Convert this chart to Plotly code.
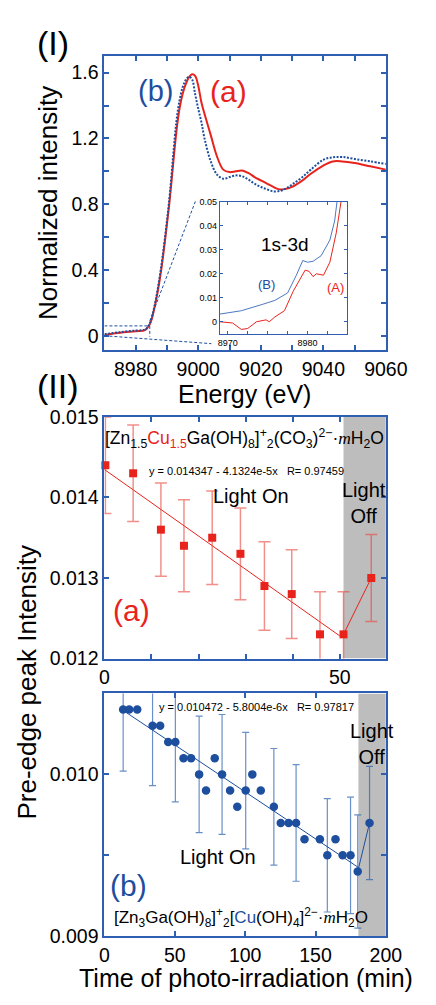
import plotly.graph_objects as go

# ---------------- data ----------------
# Panel (I): XANES spectra
energy = [8970, 8975, 8980, 8983, 8984.5, 8986, 8988, 8990, 8991, 8992, 8993, 8994, 8995,
          8996, 8997, 8998, 8999, 9000, 9001, 9002, 9004, 9006, 9008, 9010, 9012, 9014,
          9016, 9018, 9020, 9022, 9024, 9026, 9028, 9030, 9033, 9036, 9040, 9043, 9046,
          9050, 9055, 9060]
spec_a = [0.005, 0.018, 0.028, 0.035, 0.07, 0.17, 0.38, 0.68, 0.85, 1.05, 1.24, 1.38, 1.47,
          1.53, 1.57, 1.59, 1.58, 1.52, 1.42, 1.35, 1.22, 1.09, 1.01, 0.995, 1.0, 1.005,
          0.99, 0.965, 0.945, 0.925, 0.905, 0.89, 0.893, 0.905, 0.94, 0.985, 1.035, 1.06,
          1.06, 1.05, 1.03, 1.01]
spec_b = [0.01, 0.022, 0.032, 0.038, 0.075, 0.18, 0.40, 0.70, 0.88, 1.10, 1.30, 1.43, 1.51,
          1.555, 1.575, 1.56, 1.47, 1.38, 1.30, 1.20, 1.06, 0.98, 0.955, 0.965, 0.975, 0.97,
          0.95, 0.925, 0.905, 0.89, 0.878, 0.88, 0.895, 0.92, 0.96, 1.01, 1.07, 1.085,
          1.087, 1.075, 1.06, 1.045]

# Inset: pre-edge 1s-3d region
inset_e_B = [8969.0, 8971.7, 8974.4, 8975.9, 8977.5, 8978.6, 8979.4, 8980.0, 8980.7, 8981.7,
             8982.8, 8983.4, 8983.7]
inset_B = [0.0032, 0.0046, 0.0073, 0.0089, 0.0120, 0.0194, 0.0255, 0.0248, 0.0252, 0.0275,
           0.0340, 0.0420, 0.0500]
inset_e_A = [8969.0, 8970.6, 8971.7, 8972.5, 8973.6, 8974.8, 8975.2, 8975.9, 8977.1, 8978.2,
             8979.0, 8979.7, 8980.2, 8980.7, 8981.1, 8982.0, 8982.8, 8983.6, 8984.2]
inset_A = [0.0, -0.0005, -0.0032, -0.0028, 0.0, 0.0008, 0.0, 0.0020, 0.0046, 0.0127,
           0.0174, 0.0215, 0.0210, 0.0188, 0.0200, 0.0194, 0.0248, 0.0370, 0.0500]

# Panel (II)(a)
a_time = [0.2, 6.1, 12.0, 16.9, 22.9, 28.9, 34.0, 39.8, 45.8, 50.8, 56.7]
a_val = [0.01440, 0.01430, 0.01360, 0.01340, 0.01350, 0.01330, 0.01290, 0.01280, 0.01230,
         0.01230, 0.01300]
a_err = [0.00060, 0.00060, 0.00058, 0.00057, 0.00058, 0.00057, 0.00055, 0.00055, 0.00053,
         0.00053, 0.00054]
a_fit_b0, a_fit_b1 = 0.014347, -4.1324e-5
a_fit_t = [0, 50]

# Panel (II)(b)
b_time = [13.3, 17.6, 23.3, 34.2, 39.6, 45.3, 50.4, 56.2, 61.6, 67.3, 72.2, 78.4, 83.6, 89.3,
          94.4, 100.4, 105.1, 111.1, 120.4, 125.3, 130.9, 136.2, 142.2, 153.1, 158.4, 164.2,
          169.3, 174.9, 180.0, 188.4]
b_val = [0.0104, 0.0104, 0.0104, 0.0103, 0.0103, 0.0102, 0.0102, 0.0101, 0.0101, 0.0100,
         0.0099, 0.0101, 0.0100, 0.0099, 0.0098, 0.0099, 0.0100, 0.0099, 0.0098, 0.0097,
         0.0097, 0.0097, 0.0096, 0.0096, 0.0095, 0.0096, 0.0095, 0.0095, 0.0094, 0.0097]
b_err_time = [13.3, 34.2, 50.4, 67.3, 83.6, 100.4, 120.4, 136.2, 158.4, 174.9, 180.0, 188.4]
b_err_val = [0.0104, 0.0103, 0.0102, 0.0100, 0.0100, 0.0099, 0.0098, 0.0097, 0.0095, 0.0095,
             0.0094, 0.0097]
b_err = [0.00038, 0.00037, 0.00037, 0.00036, 0.00037, 0.00036, 0.00036, 0.00036, 0.00035,
         0.00036, 0.00035, 0.00035]
b_fit_b0, b_fit_b1 = 0.010472, -5.8004e-6
b_fit_t = [15, 180]

# ---------------- style ----------------
W, H = 436, 1005
RED = "#e8231c"
BLUE = "#1d4f9e"
FRAME = "#2f5fb3"
FONT = "Liberation Sans"


def px(x):
    return x / W


def py(y):
    return 1 - y / H


fig = go.Figure()

# main spectra
fig.add_trace(go.Scatter(x=energy, y=spec_a, mode="lines", line=dict(color=RED, width=2, shape="spline"),
                         xaxis="x", yaxis="y", showlegend=False))
fig.add_trace(go.Scatter(x=energy, y=spec_b, mode="lines",
                         line=dict(color=BLUE, width=2, dash="2px,1.5px", shape="spline"),
                         xaxis="x", yaxis="y", showlegend=False))
# inset
fig.add_trace(go.Scatter(x=inset_e_B, y=inset_B, mode="lines", line=dict(color="#4a78c0", width=1),
                         xaxis="x2", yaxis="y2", showlegend=False))
fig.add_trace(go.Scatter(x=inset_e_A, y=inset_A, mode="lines", line=dict(color=RED, width=1),
                         xaxis="x2", yaxis="y2", showlegend=False))

# panel a
fig.add_trace(go.Scatter(x=a_fit_t, y=[a_fit_b0 + a_fit_b1 * t for t in a_fit_t], mode="lines",
                         line=dict(color=RED, width=1), xaxis="x3", yaxis="y3", showlegend=False))
fig.add_trace(go.Scatter(x=a_time[-2:], y=a_val[-2:], mode="lines", line=dict(color=RED, width=1),
                         xaxis="x3", yaxis="y3", showlegend=False))
fig.add_trace(go.Scatter(x=a_time, y=a_val, mode="markers",
                         marker=dict(symbol="square", size=8, color=RED),
                         error_y=dict(type="data", array=a_err, color="rgba(232,70,60,0.6)",
                                      thickness=1.5, width=6),
                         cliponaxis=False, xaxis="x3", yaxis="y3", showlegend=False))

# panel b
fig.add_trace(go.Scatter(x=b_err_time, y=b_err_val, mode="markers",
                         marker=dict(size=2, color="rgba(0,0,0,0)"),
                         error_y=dict(type="data", array=b_err, color="rgba(40,95,175,0.7)",
                                      thickness=1.2, width=3.5),
                         cliponaxis=False, xaxis="x4", yaxis="y4", showlegend=False))
fig.add_trace(go.Scatter(x=b_fit_t, y=[b_fit_b0 + b_fit_b1 * t for t in b_fit_t], mode="lines",
                         line=dict(color=BLUE, width=1), xaxis="x4", yaxis="y4", showlegend=False))
fig.add_trace(go.Scatter(x=b_time[-2:], y=b_val[-2:], mode="lines", line=dict(color=BLUE, width=1),
                         xaxis="x4", yaxis="y4", showlegend=False))
fig.add_trace(go.Scatter(x=b_time, y=b_val, mode="markers",
                         marker=dict(symbol="circle", size=8.5, color=BLUE),
                         cliponaxis=False, xaxis="x4", yaxis="y4", showlegend=False))


def axis(domain, rng, tickvals, anchor, minor_dtick=None, minor_tick0=None, size=19.5, lw=2,
         ticklen=5, ticktext=None):
    d = dict(domain=domain, range=rng, tickmode="array", tickvals=tickvals, anchor=anchor,
             ticks="inside", ticklen=ticklen, tickwidth=lw, tickcolor=FRAME,
             showline=True, linecolor=FRAME, linewidth=lw, mirror="ticks",
             showgrid=False, zeroline=False, tickfont=dict(size=size, color="black", family=FONT))
    if ticktext is not None:
        d["ticktext"] = ticktext
    if minor_dtick is not None:
        d["minor"] = dict(dtick=minor_dtick, tick0=minor_tick0 if minor_tick0 is not None else rng[0],
                          ticks="inside", ticklen=ticklen, tickwidth=lw, tickcolor=FRAME, showgrid=False)
    return d


fig.update_layout(
    width=W, height=H, margin=dict(l=0, r=0, t=0, b=0),
    paper_bgcolor="white", plot_bgcolor="white",
    font=dict(family=FONT, color="black"),
    xaxis=axis([px(106), px(406)], [8970, 9060], [8980, 9000, 9020, 9040, 9060], "y",
               minor_dtick=10, minor_tick0=8970),
    yaxis=axis([py(347), py(46)], [-0.089, 1.701], [0, 0.4, 0.8, 1.2, 1.6], "x",
               minor_dtick=0.2, minor_tick0=0, ticktext=["0", "0.4", "0.8", "1.2", "1.6"]),
    xaxis2=axis([px(229), px(365)], [8969, 8985], [8970, 8980], "y2", minor_dtick=2.5,
                minor_tick0=8970, size=9, lw=1, ticklen=3),
    yaxis2=axis([py(330), py(195)], [-0.005, 0.05], [0, 0.01, 0.02, 0.03, 0.04, 0.05], "x2",
                size=9, lw=1, ticklen=3, ticktext=["0", "0.01", "0.02", "0.03", "0.04", "0.05"]),
    xaxis3=axis([px(106), px(406)], [0, 59.8], [0, 50], "y3", minor_dtick=10, minor_tick0=0),
    yaxis3=axis([py(662), py(415)], [0.012, 0.015], [0.012, 0.013, 0.014, 0.015], "x3",
                ticktext=["0.012", "0.013", "0.014", "0.015"]),
    xaxis4=axis([px(106), px(406)], [0, 200], [0, 50, 100, 150, 200], "y4"),
    yaxis4=axis([py(946), py(697.7)], [0.009, 0.0105], [0.009, 0.010], "x4",
                minor_dtick=0.0005, minor_tick0=0.009, ticktext=["0.009", "0.010"]),
)

# grey "light off" regions
fig.add_shape(type="rect", xref="x3", yref="y3", x0=50.8, x1=59.8, y0=0.012, y1=0.015,
              fillcolor="#bdbdbd", line_width=0, layer="below")
fig.add_shape(type="rect", xref="x4", yref="y4", x0=180.5, x1=200, y0=0.009, y1=0.0105,
              fillcolor="#bdbdbd", line_width=0, layer="below")

# zoom box & connectors for inset (main data coords)
dash = dict(color=BLUE, width=1, dash="3px,2px")
fig.add_shape(type="line", xref="x", yref="y", x0=8970, y0=0.06, x1=8984.5, y1=0.06, line=dash)
fig.add_shape(type="line", xref="x", yref="y", x0=8984.5, y0=0.06, x1=8984.5, y1=-0.005, line=dash)
fig.add_shape(type="line", xref="x", yref="y", x0=8984.5, y0=0.09, x1=8999.1, y1=0.818, line=dash)
fig.add_shape(type="line", xref="x", yref="y", x0=8970, y0=0.0, x1=9004.2, y1=-0.048, line=dash)


def ann(x, y, text, size, color="black", angle=0, xanchor="center"):
    fig.add_annotation(x=px(x), y=py(y), xref="paper", yref="paper", text=text, showarrow=False,
                       font=dict(size=size, color=color, family=FONT), textangle=angle,
                       xanchor=xanchor, yanchor="middle")


ann(51, 33, "(I)", 34)
ann(56, 383, "(II)", 34)
ann(160, 82, "(b)", 29, BLUE)
ann(238, 82, "(a)", 30, RED)
ann(299, 239, "1s-3d", 19)
ann(279, 280, "(B)", 13, BLUE)
ann(352, 283, "(A)", 13, RED)
ann(45, 196, "Normalized intensity", 26, angle=-90)
ann(255, 392, "Energy (eV)", 25)
ann(23, 686, "Pre-edge peak Intensity", 26, angle=-90)
ann(257, 989, "Time of photo-irradiation (min)", 25)

ital_m = "<span style='font-family:Liberation Serif'><i>m</i></span>"
formula_a = ("[Zn<sub>1.5</sub><span style='color:%s'>Cu<sub>1.5</sub></span>Ga(OH)<sub>8</sub>]"
             "<sup>+</sup><sub>2</sub>(CO<sub>3</sub>)<sup>2\u2212</sup>\u00b7%sH<sub>2</sub>O") % (RED, ital_m)
formula_b = ("[Zn<sub>3</sub>Ga(OH)<sub>8</sub>]<sup>+</sup><sub>2</sub>[<span style='color:%s'>Cu</span>"
             "(OH)<sub>4</sub>]<sup>2\u2212</sup>\u00b7%sH<sub>2</sub>O") % (BLUE, ital_m)
ann(255, 437, formula_a, 17.5)
ann(257, 470, "y = 0.014347 - 4.1324e-5x\u00a0\u00a0\u00a0R= 0.97459", 11)
ann(262, 496, "Light On", 20)
ann(383, 503, "Light<br>Off", 20)
ann(135, 613, "(a)", 30, RED)

ann(268, 712, "y = 0.010472 - 5.8004e-6x\u00a0\u00a0\u00a0R= 0.97817", 11)
ann(391, 749, "Light<br>Off", 20)
ann(227, 865, "Light On", 20)
ann(132, 894, "(b)", 30, BLUE)
ann(252, 927, formula_b, 17)

fig.write_html("out.html", config={"displayModeBar": False},
               post_script="document.body.style.margin='0px';")
